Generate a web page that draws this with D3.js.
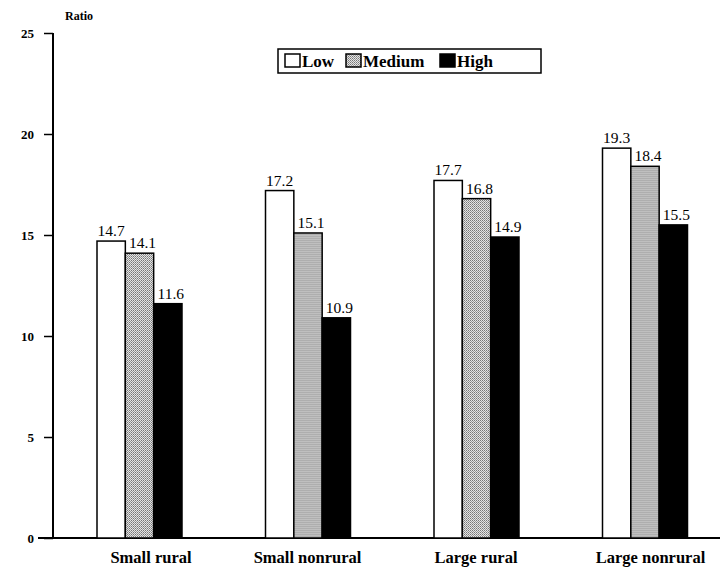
<!DOCTYPE html>
<html><head><meta charset="utf-8">
<script src="https://cdn.jsdelivr.net/npm/d3@7"></script>
<style>body{margin:0;background:#fff}svg{display:block}text{font-family:"Liberation Serif","Times New Roman",serif}</style>
</head><body><svg id="c" width="720" height="568"></svg>
<script>
const categories = ["Small rural","Small nonrural","Large rural","Large nonrural"];
const seriesNames = ["Low","Medium","High"];
const low = [14.7,17.2,17.7,19.3];
const medium = [14.1,15.1,16.8,18.4];
const high = [11.6,10.9,14.9,15.5];
const yTicks = [0,5,10,15,20,25];

const svg = d3.select("#c");
const defs = svg.append("defs");
const pat = defs.append("pattern").attr("id","dots").attr("width",2).attr("height",2).attr("patternUnits","userSpaceOnUse");
pat.append("rect").attr("width",2).attr("height",2).attr("fill","#e4e4e4");
pat.append("rect").attr("width",1).attr("height",1).attr("fill","#777");
pat.append("rect").attr("x",1).attr("y",1).attr("width",1).attr("height",1).attr("fill","#999");

const fills = ["#fff","url(#dots)","#000"];
const data = [low, medium, high];

const y = d3.scaleLinear().domain([0,25]).range([538,33]);
const x0 = d3.scaleBand().domain(categories).range([55,729]).paddingInner(0);
const x1 = d3.scaleBand().domain(seriesNames).range([0,85]);
const offset = 42;

// axes
const yAxis = svg.append("g").attr("transform","translate(53,0)")
  .call(d3.axisLeft(y).tickValues(yTicks).tickSize(9).tickPadding(10).tickFormat(d=>d===0?"0":d));
yAxis.select(".domain").attr("stroke","#000").attr("stroke-width",2).attr("d","M0,33V538");
yAxis.selectAll(".tick line").attr("stroke-width",1.5);
yAxis.selectAll(".tick text").attr("font-size",13).attr("font-weight","bold").attr("fill","#000");

svg.append("line").attr("x1",38).attr("x2",720).attr("y1",538).attr("y2",538).attr("stroke","#000").attr("stroke-width",2);

svg.append("text").attr("x",65).attr("y",20).attr("font-size",12).attr("font-weight","bold").text("Ratio");

// bars
categories.forEach((c,i)=>{
  const g = svg.append("g").attr("transform",`translate(${x0(c)+offset},0)`);
  data.forEach((arr,s)=>{
    const bx = x1(seriesNames[s]);
    g.append("rect").attr("x",bx).attr("y",y(arr[i])).attr("width",x1.bandwidth()).attr("height",y(0)-y(arr[i]))
      .attr("fill",fills[s]).attr("stroke","#000").attr("stroke-width",1.5);
    g.append("text").attr("x",bx+x1.bandwidth()/2+(s===0?0:3)).attr("y",y(arr[i])-5).attr("text-anchor","middle")
      .attr("font-size",15.5).text(arr[i].toFixed(1));
  });
  svg.append("text").attr("x",x0(c)+offset+42+(i===0?12:(i===3?6:0))).attr("y",563).attr("text-anchor","middle")
    .attr("font-size",16.5).attr("font-weight","bold").text(c);
});

// legend
const lg = svg.append("g");
lg.append("rect").attr("x",278).attr("y",49).attr("width",263).attr("height",24).attr("fill","#fff").attr("stroke","#000").attr("stroke-width",1.5);
const lx = [285,346,440];
seriesNames.forEach((n,s)=>{
  lg.append("rect").attr("x",lx[s]).attr("y",54).attr("width",15).attr("height",13).attr("fill",fills[s]).attr("stroke","#000").attr("stroke-width",1.5);
  lg.append("text").attr("x",lx[s]+17).attr("y",67).attr("font-size",17).attr("font-weight","bold").text(n);
});
</script></body></html>
